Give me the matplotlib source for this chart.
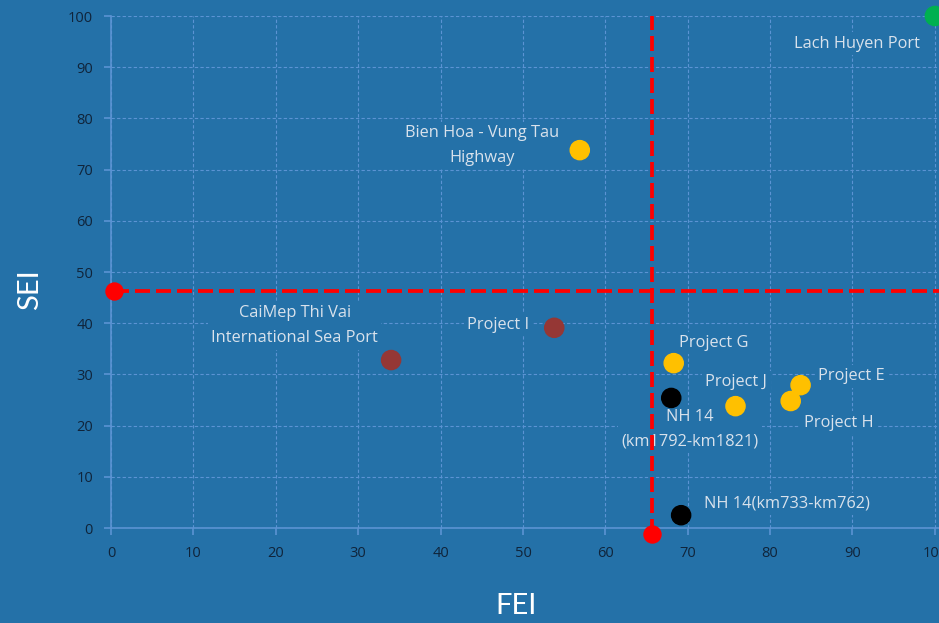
import matplotlib
matplotlib.use("Agg")
import matplotlib.pyplot as plt

# project data: FEI (x), SEI (y)
names = ["Lach Huyen Port", "Bien Hoa - Vung Tau\nHighway", "Project I",
         "CaiMep Thi Vai\nInternational Sea Port", "Project G",
         "NH 14\n(km1792-km1821)", "Project J", "Project E", "Project H",
         "NH 14(km733-km762)"]
fei = [100, 56.9, 53.8, 34.0, 68.3, 68.0, 75.8, 83.7, 82.5, 69.2]
sei = [100, 73.8, 39.1, 32.8, 32.2, 25.4, 23.8, 27.9, 24.8, 2.5]
colors = ["#00B050", "#FFC000", "#953735", "#953735", "#FFC000",
          "#000000", "#FFC000", "#FFC000", "#FFC000", "#000000"]
# label anchor (data coords)
label_x = [90.5, 45.0, 47.0, 22.3, 73.2, 70.3, 75.9, 89.9, 88.3, 82.1]
label_y = [94.6, 74.7, 39.7, 39.5, 36.1, 19.3, 28.5, 29.6, 20.6, 4.7]

fei_mean = 65.7
sei_mean = 46.3

bg = "#2471A8"
grid_c = "#5B93D3"
text_c = "#D9E2EC"

plt.rcParams['font.family'] = ['Open Sans', 'DejaVu Sans']

fig = plt.figure(figsize=(9.39, 6.23), dpi=100, facecolor=bg)
ax = fig.add_axes([111 / 939, 95 / 623, 828 / 939, 512 / 623], facecolor=bg)
ax.set_xlim(0, 100.5)
ax.set_ylim(0, 100)

ax.set_xticks(range(0, 101, 10))
ax.set_yticks(range(0, 101, 10))
ax.grid(True, color=grid_c, linestyle=(0, (3, 2)), linewidth=0.8)
ax.set_axisbelow(True)
for s in ["top", "right"]:
    ax.spines[s].set_visible(False)
for s in ["left", "bottom"]:
    ax.spines[s].set_color(grid_c)
    ax.spines[s].set_linewidth(1.2)
ax.tick_params(colors=grid_c, length=5, width=1.2, labelcolor="#10243A",
               labelsize=10.5, pad=8)

# mean lines
ax.plot([0.4, 100.5], [sei_mean, sei_mean], color="red", lw=2.7,
        dashes=(4, 1.6), clip_on=False, zorder=3)
ax.plot([fei_mean, fei_mean], [-1.2, 100], color="red", lw=2.7,
        dashes=(4, 1.6), clip_on=False, zorder=3)
ax.scatter([0.4, fei_mean], [sei_mean, -1.2], s=150, color="red",
           clip_on=False, zorder=4)

ax.scatter(fei, sei, s=190, c=colors, clip_on=False, zorder=5)
for name, lx, ly in zip(names, label_x, label_y):
    ax.text(lx, ly, name, color=text_c, fontsize=11.8, ha="center",
            va="center", linespacing=1.75, zorder=2.5,
            bbox=dict(boxstyle="square,pad=0.2", fc=bg, ec="none"))

fig.text(30 / 939, 1 - 290 / 623, "SEI", color="white", fontsize=21,
         rotation=90, ha="center", va="center",
         family=["Lato", "DejaVu Sans"])
fig.text(516 / 939, 1 - 606 / 623, "FEI", color="white", fontsize=21,
         ha="center", va="center",
         family=["Lato", "DejaVu Sans"])

fig.savefig("out.png", dpi=100, facecolor=bg)
